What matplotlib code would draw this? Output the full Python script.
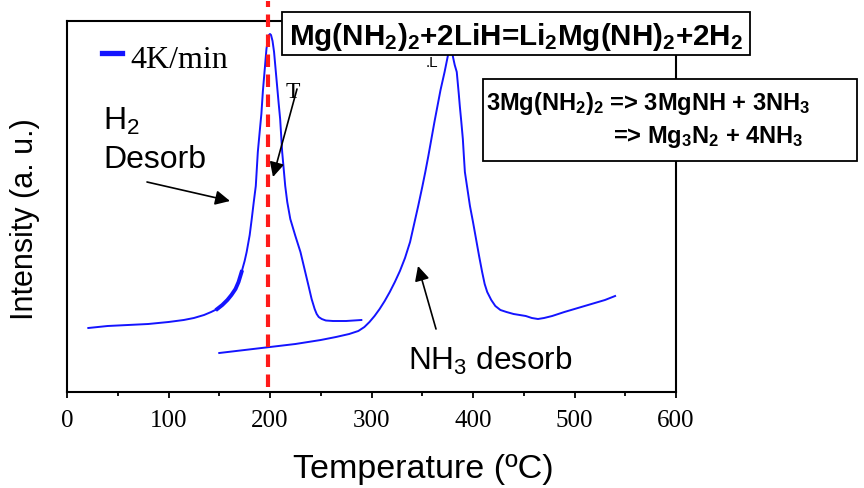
import matplotlib
matplotlib.use("Agg")
import matplotlib.pyplot as plt
from matplotlib.patches import Rectangle
from matplotlib.lines import Line2D

plt.rcParams['font.family'] = ['Liberation Sans', 'DejaVu Sans']
plt.rcParams['mathtext.default'] = 'regular'

W, H = 864, 489

# ---- data (temperature in degC, intensity in arbitrary units) ----
h2_temp = [21, 40, 60, 80, 100, 115, 125, 135, 142, 148, 153, 158, 162, 166, 169,
           172, 175, 177, 180, 182, 184, 186, 188, 190, 191.5, 193, 195, 196.5,
           198, 199, 200, 201, 202.5, 204, 205.5, 207, 208.5, 210, 212, 213.5,
           215, 217, 220, 225, 230, 234, 238, 241, 244, 246, 248, 251, 255, 262,
           275, 290]
h2_int = [64, 66, 67, 68, 70, 72, 74, 77, 80, 83, 87, 92, 97, 103, 110,
          120, 131, 140, 157, 173, 190, 206, 240, 262, 278, 301, 325, 343,
          353, 357, 358, 357, 351, 340, 323, 306, 289, 273, 240, 223,
          206, 190, 173, 156, 140, 123, 106, 93, 83, 78, 75, 73, 71.5, 71,
          71, 72]

nh3_temp = [150, 175, 200, 225, 250, 265, 278, 287, 293, 298, 303, 308, 313, 318,
            323, 328, 333, 338, 342, 346, 350, 353, 356, 359, 362, 365, 368, 372,
            374, 376, 377.5, 379, 380.5, 382, 384, 386, 387, 388.5, 390, 391, 392,
            394.5, 397, 400, 403, 406, 409, 411.5, 414, 418, 422, 427, 433, 440,
            446, 452, 458, 464, 470, 478, 490, 500, 510, 520, 530, 540]
nh3_int = [39, 42, 45, 48, 52, 55, 58, 61, 65, 70, 76, 83, 91, 100,
           110, 121, 134, 150, 168, 186, 205, 220, 236, 253, 270, 286, 302, 320,
           330, 340, 346, 342, 334, 327, 320, 298, 286, 270, 253, 236, 220,
           203, 186, 170, 153, 136, 120, 108, 100, 92, 86, 82, 80, 78,
           77, 76, 74, 73, 74, 76, 80, 83, 86, 89, 92, 96]

marker_temp = 198
legend_label = "4K/min"
xticks = [0, 100, 200, 300, 400, 500, 600]

BLUE = '#1414ff'

def P(x, y):
    return (x / W, 1 - y / H)

fig = plt.figure(figsize=(W / 100, H / 100), dpi=100)
ax = fig.add_axes([67 / W, 1 - 393 / H, (676 - 67) / W, (393 - 22) / H])
ax.set_xlim(0, 600)
ax.set_ylim(0, 371)

ax.plot(h2_temp, h2_int, color=BLUE, lw=1.4, zorder=3)
ax.plot(h2_temp[9:16], h2_int[9:16], color=BLUE, lw=2.8, zorder=3)
ax.plot(nh3_temp, nh3_int, color=BLUE, lw=1.4, zorder=3)

ax.plot([marker_temp, marker_temp], [5, 391], color='#ff1a1a', lw=3,
        dashes=(3, 1.8), clip_on=False, zorder=4)

for s in ax.spines.values():
    s.set_linewidth(1.5)
ax.set_yticks([])
ax.set_xticks(xticks)
ax.set_xticks(range(50, 600, 100), minor=True)
ax.tick_params(axis='x', which='major', direction='out', length=4, width=1.3,
               pad=8, labelsize=18)
ax.tick_params(axis='x', which='minor', direction='out', length=3, width=1.3)
for lab in ax.get_xticklabels():
    lab.set_fontfamily('Liberation Serif')

# axis labels
fig.text(*P(25, 219), "Intensity (a. u.)", rotation=90, ha='center', va='center',
         fontsize=22)
fig.text(*P(293, 478), "Temperature (ºC)", ha='left', va='baseline', fontsize=24.5)

# legend
fig.add_artist(Line2D([102 / W, 122 / W], [1 - 54 / H, 1 - 54 / H], color=BLUE,
                      lw=3.8, transform=fig.transFigure))
fig.text(*P(130, 68), legend_label, family='Liberation Serif', fontsize=23,
         va='baseline', ha='left')

# annotations
fig.text(*P(103, 130), "H$_2$", fontsize=23, va='baseline')
fig.text(*P(103, 168), "Desorb", fontsize=23, va='baseline')
fig.text(*P(408, 370), "NH$_3$ desorb", fontsize=22.7, va='baseline')
fig.text(*P(286, 98), "T", family='Liberation Serif', fontsize=17, va='baseline')
fig.text(*P(426, 67), ".L", fontsize=11, va='baseline', zorder=2)

arrow_kw = dict(arrowstyle='-|>', color='black', lw=1.2, mutation_scale=22,
                shrinkA=0, shrinkB=0)
for tail, head in [((147, 183), (230, 202)), ((297, 90), (273, 178)),
                   ((436, 330), (418, 267))]:
    ax.annotate('', xy=P(*head), xytext=P(*tail), xycoords='figure fraction',
                textcoords='figure fraction', arrowprops=arrow_kw, zorder=6)

# boxes
def box(x0, y0, x1, y1):
    fig.add_artist(Rectangle((x0 / W, 1 - y1 / H), (x1 - x0) / W, (y1 - y0) / H,
                             transform=fig.transFigure, facecolor='white',
                             edgecolor='black', lw=1.3, zorder=5))

box(282, 13, 750, 56)
fig.text(*P(289, 45), "Mg(NH$_2$)$_2$+2LiH=Li$_2$Mg(NH)$_2$+2H$_2$", fontsize=21.3,
         fontweight='bold', va='baseline', zorder=6)
box(483, 80, 857, 162)
fig.text(*P(486, 110), "3Mg(NH$_2$)$_2$ => 3MgNH + 3NH$_3$", fontsize=17,
         fontweight='bold', va='baseline', zorder=6)
fig.text(*P(613, 143), "=> Mg$_3$N$_2$ + 4NH$_3$", fontsize=17,
         fontweight='bold', va='baseline', zorder=6)

fig.savefig("out.png", dpi=100)
